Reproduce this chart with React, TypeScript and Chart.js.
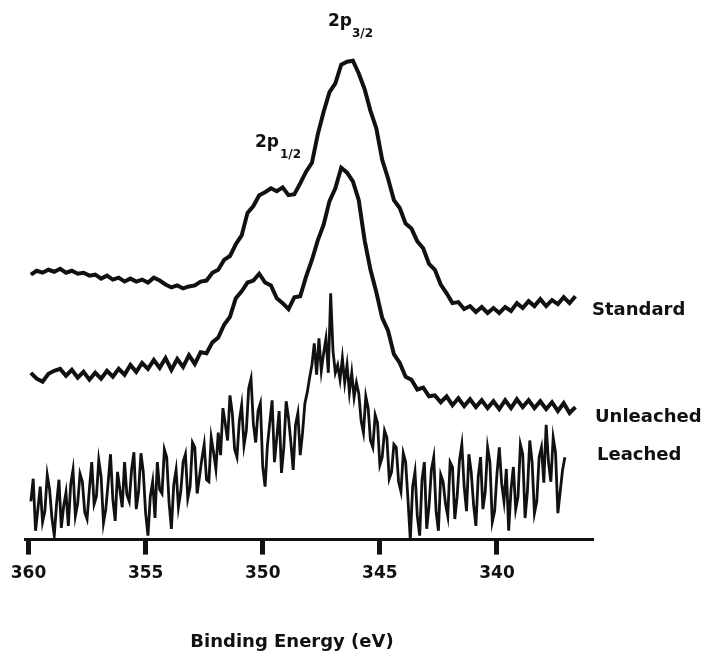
import React, { useEffect, useRef } from "react";
import { Chart, registerables } from "chart.js";

Chart.register(...registerables);

// Binding energy grid (eV) for Standard and Unleached traces
const ENERGY_FINE = [
  359.9, 359.65, 359.4, 359.15, 358.9, 358.65, 358.4, 358.15, 357.9, 357.65,
  357.4, 357.15, 356.9, 356.65, 356.4, 356.15, 355.9, 355.65, 355.4, 355.15,
  354.9, 354.65, 354.4, 354.15, 353.9, 353.65, 353.4, 353.15, 352.9, 352.65,
  352.4, 352.15, 351.9, 351.65, 351.4, 351.15, 350.9, 350.65, 350.4, 350.15,
  349.9, 349.65, 349.4, 349.15, 348.9, 348.65, 348.4, 348.15, 347.9, 347.65,
  347.4, 347.15, 346.9, 346.65, 346.4, 346.15, 345.9, 345.65, 345.4, 345.15,
  344.9, 344.65, 344.4, 344.15, 343.9, 343.65, 343.4, 343.15, 342.9, 342.65,
  342.4, 342.15, 341.9, 341.65, 341.4, 341.15, 340.9, 340.65, 340.4, 340.15,
  339.9, 339.65, 339.4, 339.15, 338.9, 338.65, 338.4, 338.15, 337.9, 337.65,
  337.4, 337.15, 336.9, 336.65,
];

// Intensity (arbitrary units, offset traces)
const STANDARD = [
  270, 274, 272, 275, 273, 276, 272, 274, 271, 272,
  269, 270, 266, 269, 265, 267, 263, 266, 263, 265,
  262, 267, 264, 260, 257, 259, 256, 258, 259, 263,
  264, 272, 275, 285, 289, 301, 310, 333, 340, 351,
  354, 358, 355, 359, 351, 352, 363, 375, 384, 413,
  436, 456, 465, 484, 487, 488, 475, 459, 437, 419,
  387, 368, 346, 338, 322, 317, 304, 297, 281, 275,
  260, 251, 241, 242, 235, 238, 232, 237, 231, 236,
  231, 237, 233, 241, 236, 243, 238, 245, 238, 244,
  240, 247, 241, 248,
];

const UNLEACHED = [
  170, 164, 161, 169, 172, 174, 167, 173, 165, 171,
  163, 170, 164, 172, 166, 174, 168, 178, 171, 180,
  174, 183, 175, 185, 173, 184, 176, 188, 179, 191,
  190, 201, 206, 219, 227, 246, 253, 262, 264, 271,
  262, 259, 246, 241, 235, 247, 248, 268, 285, 305,
  321, 345, 358, 379, 374, 365, 346, 305, 275, 252,
  226, 213, 189, 180, 166, 163, 153, 155, 146, 147,
  140, 146, 137, 144, 136, 143, 135, 142, 134, 141,
  133, 142, 134, 143, 135, 142, 134, 141, 133, 140,
  131, 139, 129, 135,
];

// Binding energy grid (eV) for the Leached trace
const ENERGY_LEACHED = [
  359.9, 359.8, 359.7, 359.6, 359.5, 359.4, 359.3, 359.2, 359.1, 359.0,
  358.9, 358.8, 358.7, 358.6, 358.5, 358.4, 358.3, 358.2, 358.1, 358.0,
  357.9, 357.8, 357.7, 357.6, 357.5, 357.4, 357.3, 357.2, 357.1, 357.0,
  356.9, 356.8, 356.7, 356.6, 356.5, 356.4, 356.3, 356.2, 356.1, 356.0,
  355.9, 355.8, 355.7, 355.6, 355.5, 355.4, 355.3, 355.2, 355.1, 355.0,
  354.9, 354.8, 354.7, 354.6, 354.5, 354.4, 354.3, 354.2, 354.1, 354.0,
  353.9, 353.8, 353.7, 353.6, 353.5, 353.4, 353.3, 353.2, 353.1, 353.0,
  352.9, 352.8, 352.7, 352.6, 352.5, 352.4, 352.3, 352.2, 352.1, 352.0,
  351.9, 351.8, 351.7, 351.6, 351.5, 351.4, 351.3, 351.2, 351.1, 351.0,
  350.9, 350.8, 350.7, 350.6, 350.5, 350.4, 350.3, 350.2, 350.1, 350.0,
  349.9, 349.8, 349.7, 349.6, 349.5, 349.4, 349.3, 349.2, 349.1, 349.0,
  348.9, 348.8, 348.7, 348.6, 348.5, 348.4, 348.3, 348.2, 348.1, 348.0,
  347.9, 347.8, 347.7, 347.6, 347.5, 347.4, 347.3, 347.2, 347.1, 347.0,
  346.9, 346.8, 346.7, 346.6, 346.5, 346.4, 346.3, 346.2, 346.1, 346.0,
  345.9, 345.8, 345.7, 345.6, 345.5, 345.4, 345.3, 345.2, 345.1, 345.0,
  344.9, 344.8, 344.7, 344.6, 344.5, 344.4, 344.3, 344.2, 344.1, 344.0,
  343.9, 343.8, 343.7, 343.6, 343.5, 343.4, 343.3, 343.2, 343.1, 343.0,
  342.9, 342.8, 342.7, 342.6, 342.5, 342.4, 342.3, 342.2, 342.1, 342.0,
  341.9, 341.8, 341.7, 341.6, 341.5, 341.4, 341.3, 341.2, 341.1, 341.0,
  340.9, 340.8, 340.7, 340.6, 340.5, 340.4, 340.3, 340.2, 340.1, 340.0,
  339.9, 339.8, 339.7, 339.6, 339.5, 339.4, 339.3, 339.2, 339.1, 339.0,
  338.9, 338.8, 338.7, 338.6, 338.5, 338.4, 338.3, 338.2, 338.1, 338.0,
  337.9, 337.8, 337.7, 337.6, 337.5, 337.4, 337.3, 337.2, 337.1,
];

const LEACHED = [
  39, 62, 9, 31, 54, 18, 29, 66, 51, 22, 4, 37, 61, 12, 34, 48, 14, 56, 71, 24,
  37, 67, 59, 28, 21, 52, 79, 36, 44, 81, 64, 17, 31, 58, 87, 41, 19, 69, 51, 33,
  79, 46, 39, 71, 89, 31, 49, 88, 69, 27, 4, 44, 59, 22, 79, 51, 47, 92, 84, 38,
  11, 56, 71, 33, 49, 79, 87, 42, 54, 99, 94, 47, 64, 82, 97, 61, 59, 104, 89, 72,
  109, 86, 134, 118, 101, 147, 129, 92, 84, 121, 137, 96, 111, 154, 164, 118, 99, 131, 139, 74,
  54, 96, 119, 142, 79, 104, 131, 68, 94, 141, 124, 99, 71, 117, 129, 86, 109, 139, 150, 165,
  178, 200, 168, 205, 172, 190, 205, 170, 251, 192, 170, 178, 163, 185, 160, 178, 150, 170, 145, 160,
  149, 121, 109, 146, 134, 101, 94, 127, 119, 76, 84, 111, 104, 62, 69, 97, 94, 59, 49, 88,
  79, 41, 0, 54, 69, 24, 4, 61, 79, 11, 34, 71, 84, 29, 9, 66, 59, 37, 24, 79,
  74, 21, 44, 81, 97, 54, 29, 87, 69, 36, 14, 64, 84, 31, 49, 94, 79, 18, 29, 67,
  94, 57, 39, 72, 9, 51, 74, 31, 44, 97, 87, 22, 49, 101, 79, 27, 39, 84, 94, 58,
  117, 79, 59, 104, 89, 27, 49, 71, 84,
];

const X_TICKS = [360, 355, 350, 345, 340];
const TRACE_NAMES = ["Standard", "Unleached", "Leached"];
const X_TITLE = "Binding Energy (eV)";

const FONT = '"DejaVu Sans", "Liberation Sans", Arial, sans-serif';

const toPoints = (xs: number[], ys: number[]) => xs.map((x, i) => ({ x, y: ys[i] }));

const textPlugin = {
  id: "xpsText",
  afterDraw(chart: any) {
    const ctx = chart.ctx as CanvasRenderingContext2D;
    ctx.save();
    ctx.fillStyle = "#111";
    ctx.textBaseline = "middle";
    ctx.textAlign = "left";
    // peak annotations
    ctx.font = `bold 17px ${FONT}`;
    ctx.fillText("2p", 328, 22);
    ctx.fillText("2p", 255, 143);
    ctx.font = `bold 12px ${FONT}`;
    ctx.fillText("3/2", 352, 34);
    ctx.fillText("1/2", 280, 155);
    // trace labels
    ctx.font = `bold 18px ${FONT}`;
    ctx.fillText(TRACE_NAMES[0], 592, 310);
    ctx.fillText(TRACE_NAMES[1], 595, 417);
    ctx.fillText(TRACE_NAMES[2], 597, 455);
    // axis title
    ctx.textAlign = "center";
    ctx.fillText(X_TITLE, 292, 642);
    ctx.restore();
  },
};

export default function App() {
  const ref = useRef<HTMLCanvasElement | null>(null);

  useEffect(() => {
    if (!ref.current) return;
    const chart = new Chart(ref.current, {
      type: "line",
      data: {
        datasets: [
          {
            label: TRACE_NAMES[0],
            data: toPoints(ENERGY_FINE, STANDARD),
            borderColor: "#111",
            borderWidth: 4,
            pointRadius: 0,
            tension: 0,
          },
          {
            label: TRACE_NAMES[1],
            data: toPoints(ENERGY_FINE, UNLEACHED),
            borderColor: "#111",
            borderWidth: 4,
            pointRadius: 0,
            tension: 0,
          },
          {
            label: TRACE_NAMES[2],
            data: toPoints(ENERGY_LEACHED, LEACHED),
            borderColor: "#111",
            borderWidth: 2.8,
            pointRadius: 0,
            tension: 0,
          },
        ],
      },
      options: {
        animation: false,
        responsive: false,
        devicePixelRatio: 1,
        layout: { padding: { left: 25, right: 117, top: 49, bottom: 62 } },
        plugins: {
          legend: { display: false },
          tooltip: { enabled: false },
        },
        scales: {
          x: {
            type: "linear",
            reverse: true,
            min: 335.9,
            max: 360.15,
            afterBuildTicks: (axis: any) => {
              axis.ticks = X_TICKS.map((v) => ({ value: v }));
            },
            border: { display: true, color: "#111", width: 3 },
            grid: {
              display: true,
              drawOnChartArea: false,
              drawTicks: true,
              tickLength: 15,
              tickWidth: 5,
              tickColor: "#111",
              color: "#111",
            },
            ticks: {
              color: "#111",
              padding: 9,
              maxRotation: 0,
              font: { family: FONT, size: 17, weight: "bold" },
            },
          },
          y: {
            type: "linear",
            display: false,
            min: 0,
            max: 500,
          },
        },
      },
      plugins: [textPlugin],
    });
    return () => chart.destroy();
  }, []);

  return (
    <div style={{ position: "absolute", left: 0, top: 0, width: 710, height: 655, background: "#fff" }}>
      <canvas ref={ref} width={710} height={655} style={{ display: "block" }} />
    </div>
  );
}
